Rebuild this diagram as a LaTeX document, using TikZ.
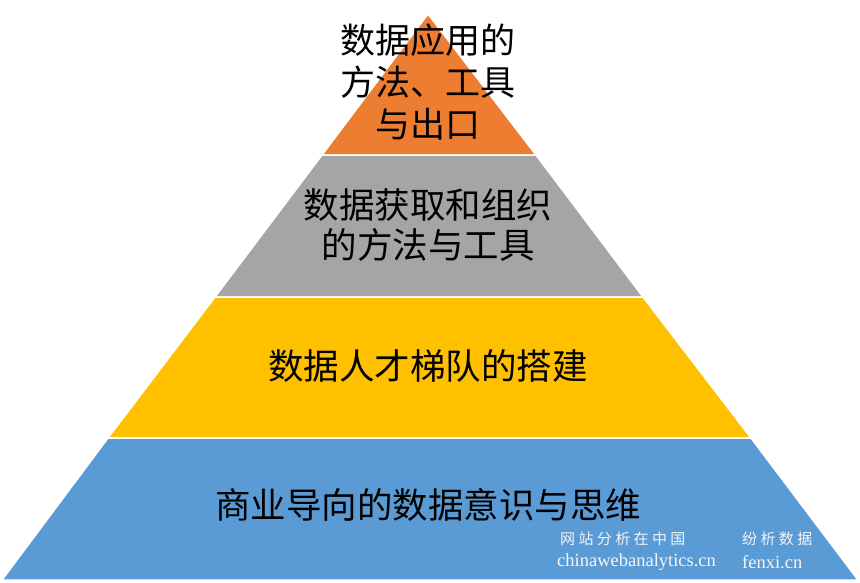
\documentclass[tikz,border=0pt]{standalone}
\usepackage{fontspec}
\setmainfont{Liberation Serif}
\newfontfamily\cjk{Noto Sans CJK SC}
\begin{document}
\begin{tikzpicture}[x=1pt,y=-1pt,
  layer/.style={draw=white,line width=1.5pt},
  lbl/.style={font=\cjk\fontsize{35.5}{40}\selectfont,align=center,text=black},
  wm/.style={text=white!92!gray,inner sep=0pt}]
\useasboundingbox (0,0) rectangle (860,582);
\fill[white] (0,0) rectangle (860,582);
\filldraw[layer,fill={rgb,255:red,237;green,125;blue,49}] (428,14) -- (536,155) -- (322,155) -- cycle;
\filldraw[layer,fill={rgb,255:red,165;green,165;blue,165}] (322,155) -- (536,155) -- (643,297) -- (215,297) -- cycle;
\filldraw[layer,fill={rgb,255:red,255;green,192;blue,0}] (215,297) -- (643,297) -- (751,438) -- (108,438) -- cycle;
\filldraw[layer,fill={rgb,255:red,91;green,155;blue,213}] (108,438) -- (751,438) -- (858,580) -- (2,580) -- cycle;
\node[lbl,font=\cjk\fontsize{35}{42}\selectfont] (t1) at (428,82) {数据应用的\\方法、工具\\与出口};
\node[lbl] (t2) at (428,225) {数据获取和组织\\的方法与工具};
\node[lbl] (t3) at (428,366) {数据人才梯队的搭建};
\node[lbl] (t4) at (428,505) {商业导向的数据意识与思维};
\node[wm,font=\cjk\fontsize{15}{18}\selectfont,anchor=west] (w1) at (560,539) {网 站 分 析 在 中 国};
\node[wm,font=\fontsize{18.5}{22}\selectfont,anchor=west] (w2) at (557,562) {chinawebanalytics.cn};
\node[wm,font=\cjk\fontsize{15}{18}\selectfont,anchor=west] (w3) at (742,539) {纷 析 数 据};
\node[wm,font=\fontsize{18.5}{22}\selectfont,anchor=west] (w4) at (742,562) {fenxi.cn};
\end{tikzpicture}
\end{document}
